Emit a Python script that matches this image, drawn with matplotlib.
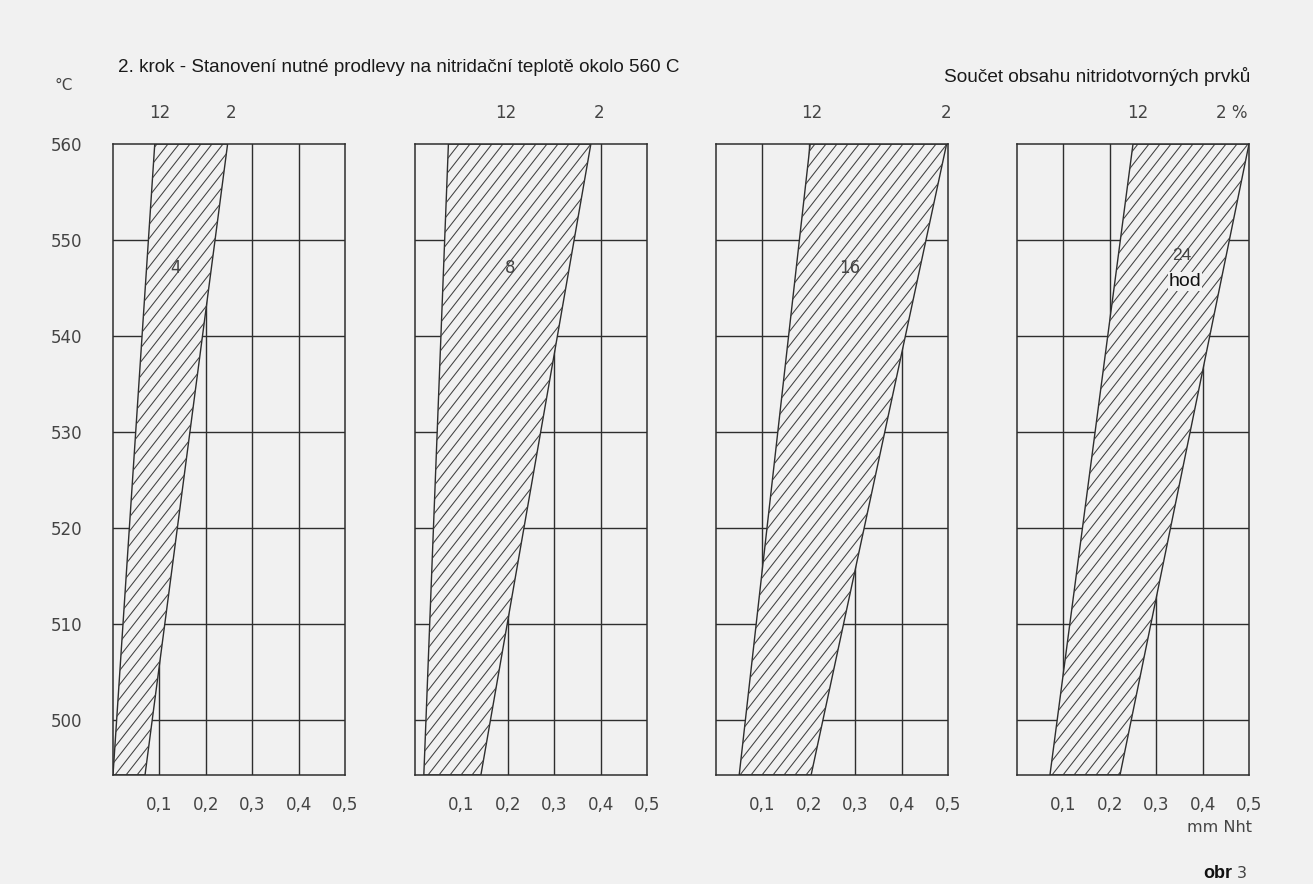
import numpy as np
import matplotlib
matplotlib.use('Agg')
import matplotlib.pyplot as plt
import matplotlib.transforms as mtransforms
from matplotlib.patches import Polygon
from matplotlib.collections import LineCollection

# nitriding time per panel (hours)
hours = ['4', '8', '16', '24']
temp_lo, temp_hi = 494.3, 560
# band edges in mm Nht: 12 % line (left) and 2 % line (right), at 560 C and at bottom
left_top = [0.090, 0.072, 0.203, 0.250]
left_bot = [0.000, 0.019, 0.050, 0.071]
right_top = [0.247, 0.379, 0.497, 0.500]
right_bot = [0.069, 0.142, 0.205, 0.222]
# where the "12" and "2" labels sit above each panel
lbl12_x = [0.101, 0.196, 0.207, 0.261]
lbl2_x = [0.254, 0.397, 0.496, 0.463]
lbl2_txt = ['2', '2', '2', '2 %']
hour_x = [0.134, 0.205, 0.289, 0.356]
hour_y = [547.1, 547.1, 547.1, 548.4]

x_ticks = [0.1, 0.2, 0.3, 0.4, 0.5]
x_labels = ['0,1', '0,2', '0,3', '0,4', '0,5']
y_ticks = [500, 510, 520, 530, 540, 550, 560]

W, H = 1313, 884
bg = '#f1f1f1'
ink = '#2e2e2e'
grey = '#444444'

fig = plt.figure(figsize=(W / 100, H / 100), dpi=100, facecolor=bg)

lefts = [113, 415, 716, 1017]
ax_w, ax_top, ax_bot = 232, 144, 775

for i in range(4):
    ax = fig.add_axes([lefts[i] / W, 1 - ax_bot / H, ax_w / W, (ax_bot - ax_top) / H])
    ax.set_facecolor(bg)
    ax.set_xlim(0, 0.5)
    ax.set_ylim(temp_lo, temp_hi)
    for v in x_ticks[:-1]:
        ax.axvline(v, color=ink, lw=1.0, zorder=1)
    for v in y_ticks[:-1]:
        ax.axhline(v, color=ink, lw=1.0, zorder=1)
    for s in ax.spines.values():
        s.set_color(ink)
        s.set_linewidth(1.1)
        s.set_zorder(5)

    poly = Polygon([(left_bot[i], temp_lo), (left_top[i], temp_hi),
                    (right_top[i], temp_hi), (right_bot[i], temp_lo)],
                   closed=True, facecolor=bg, edgecolor=ink, lw=1.0, zorder=2)
    ax.add_patch(poly)

    # diagonal hatching, drawn in pixel units and clipped to the band
    h_px = ax_bot - ax_top
    pix = mtransforms.Affine2D().scale(1 / ax_w, 1 / h_px) + ax.transAxes
    slope = np.tan(np.radians(52))
    segs = []
    for x0 in np.arange(-h_px / slope, ax_w + 12, 11):
        segs.append([(x0, 0), (x0 + h_px / slope, h_px)])
    lc = LineCollection(segs, colors='#404040', linewidths=0.75, transform=pix, zorder=3)
    lc.set_clip_path(poly)
    ax.add_collection(lc)

    ax.set_xticks(x_ticks)
    ax.set_xticklabels(x_labels, fontsize=12, color=grey, family='DejaVu Sans')
    ax.tick_params(axis='x', length=0, pad=15)
    if i == 0:
        ax.set_yticks(y_ticks)
        ax.set_yticklabels([str(v) for v in y_ticks], fontsize=12, color=grey,
                           family='DejaVu Sans')
        ax.tick_params(axis='y', length=0, pad=22)
    else:
        ax.set_yticks([])

    ax.text(lbl12_x[i], 563.2, '12', ha='center', va='center', fontsize=12,
            color=grey, family='DejaVu Sans', clip_on=False)
    ax.text(lbl2_x[i], 563.2, lbl2_txt[i], ha='center', va='center', fontsize=12,
            color=grey, family='DejaVu Sans', clip_on=False)

    if i < 3:
        ax.text(hour_x[i], hour_y[i], hours[i], ha='center', va='center', fontsize=12,
                color=grey, family='DejaVu Sans', zorder=6)
    else:
        ax.text(hour_x[i], hour_y[i], hours[i], ha='center', va='center', fontsize=12.5,
                color=grey, family='Liberation Sans', zorder=6)
        ax.text(0.362, 545.7, 'hod', ha='center', va='center', fontsize=14,
                color='#111111', family='Liberation Sans', zorder=6,
                bbox=dict(facecolor=bg, edgecolor='none', pad=0.5))

fig.text(118 / W, 1 - 68 / H, '2. krok - Stanovení nutné prodlevy na nitridační teplotě okolo 560 C',
         ha='left', va='center', fontsize=13.6, color='#1a1a1a', family='Liberation Sans')
fig.text(1250 / W, 1 - 77 / H, 'Součet obsahu nitridotvorných prvků',
         ha='right', va='center', fontsize=13.7, color='#1a1a1a', family='Liberation Sans')
fig.text(55 / W, 1 - 86 / H, '°C', ha='left', va='center', fontsize=11,
         color=grey, family='DejaVu Sans')
fig.text(1252 / W, 1 - 828 / H, 'mm Nht', ha='right', va='center', fontsize=11.5,
         color=grey, family='DejaVu Sans')
fig.text(1232 / W, 1 - 873 / H, 'obr', ha='right', va='center', fontsize=13,
         color='#111111', family='Liberation Sans', weight='bold')
fig.text(1237 / W, 1 - 874 / H, '3', ha='left', va='center', fontsize=11.5,
         color=grey, family='DejaVu Sans')

fig.savefig('out.png', dpi=100, facecolor=bg)
